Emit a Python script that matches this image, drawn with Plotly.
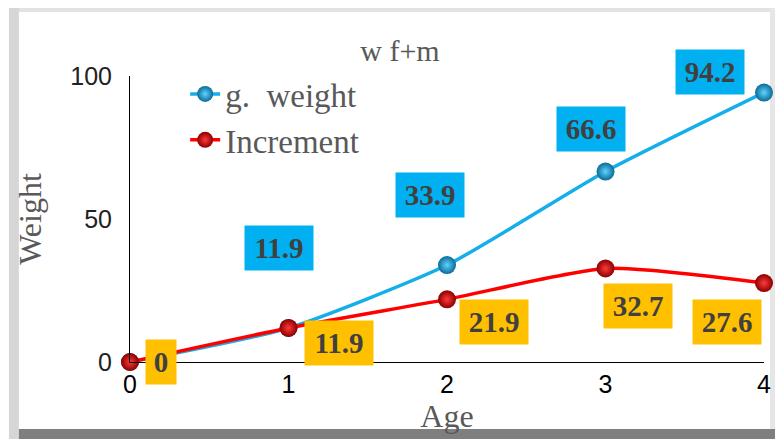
import plotly.graph_objects as go

ages = [0, 1, 2, 3, 4]
g_weight = [0, 11.9, 33.9, 66.6, 94.2]
increment = [0, 11.9, 21.9, 32.7, 27.6]
y_ticks = [0, 50, 100]

# label offsets (px) relative to their points
blue_shift = [None, (-10, 80), (-17, 70), (-15, 43), (-54, 21)]
orange_shift = [(31, 0), (50, -15), (47, -23), (32, -38), (-37, -39)]

# page body has an 8px margin, so the figure is drawn 8px in from the top-left
OX, OY = 8, 8
W, H = 783 - OX, 439 - OY
L, R, T, B = 130 - OX, 783 - 769, 76 - OY, 439 - 362
PW, PH = W - L - R, H - T - B

fig = go.Figure()

fig.add_trace(go.Scatter(
    x=ages, y=g_weight, name="g.\u00a0 weight", mode="lines+markers",
    line=dict(color="#14AEEA", width=3.5, shape="spline", smoothing=0.6),
    marker=dict(size=18, color="#0B6A96", gradient=dict(type="radial", color="#5FD4FF"),
                line=dict(width=0)),
    cliponaxis=False))
fig.add_trace(go.Scatter(
    x=ages, y=increment, name="Increment", mode="lines+markers",
    line=dict(color="#FF0000", width=3.5, shape="spline", smoothing=0.6),
    marker=dict(size=18, color="#8B0000", gradient=dict(type="radial", color="#FF3A3A"),
                line=dict(width=0)),
    cliponaxis=False))

lab_font = dict(family="Liberation Serif", size=29, color="#404040")
for x, y, s in zip(ages, g_weight, blue_shift):
    if s is None:
        continue
    fig.add_annotation(x=x, y=y, text=f"<b>{y:g}</b>", showarrow=False,
                       xshift=s[0], yshift=s[1], bgcolor="#00B0F0",
                       borderpad=8, width=52, height=28, font=lab_font)
for x, y, s in zip(ages, increment, orange_shift):
    fig.add_annotation(x=x, y=y, text=f"<b>{y:g}</b>", showarrow=False,
                       xshift=s[0], yshift=s[1], bgcolor="#FFC000",
                       borderpad=8, width=52 if y else 14, height=28, font=lab_font)

# frame / bevel (page pixel coordinates)
def px2paper(px, py):
    return (px - OX - L) / PW, (H - B - (py - OY)) / PH
for (x0, y0, x1, y1, c) in [(8, 7, 783, 12, "#E2E2E2"), (8, 7, 18, 439, "#D6D6D6"),
                            (775, 7, 783, 430, "#E6E6E6"), (18, 429, 783, 439, "#7F7F7F")]:
    a, b = px2paper(x0, y1)
    c2, d = px2paper(x1, y0)
    fig.add_shape(type="rect", xref="paper", yref="paper", layer="below",
                  x0=a, x1=c2, y0=b, y1=d, fillcolor=c, line_width=0)

fig.update_layout(
    width=W, height=H,
    margin=dict(l=L, r=R, t=T, b=B),
    paper_bgcolor="white", plot_bgcolor="white",
    title=dict(text="w f+m", x=(400 - OX) / W, y=1 - (50 - OY) / H,
               xanchor="center", yanchor="middle",
               font=dict(family="Liberation Serif", size=30, color="#595959")),
    legend=dict(x=0.087, y=1.035, xanchor="left", yanchor="top", bgcolor="rgba(0,0,0,0)",
                font=dict(family="Liberation Serif", size=33, color="#595959"),
                tracegroupgap=0),
    showlegend=True,
    xaxis=dict(range=[0, 4], tickvals=ages, showgrid=False, zeroline=False,
               showline=True, linecolor="black", linewidth=1, ticks="",
               ticklabelstandoff=0,
               tickfont=dict(family="Liberation Sans", size=25, color="black"),
               title=dict(text="Age", standoff=3,
                          font=dict(family="Liberation Serif", size=32, color="#595959"))),
    yaxis=dict(range=[0, 100], tickvals=y_ticks, showgrid=False, zeroline=False,
               showline=True, linecolor="black", linewidth=1, ticks="",
               ticklabelstandoff=12,
               tickfont=dict(family="Liberation Sans", size=25, color="#222222"),
               title=dict(text="Weight", standoff=19,
                          font=dict(family="Liberation Serif", size=32, color="#595959"))),
)

fig.write_html("out.html")
